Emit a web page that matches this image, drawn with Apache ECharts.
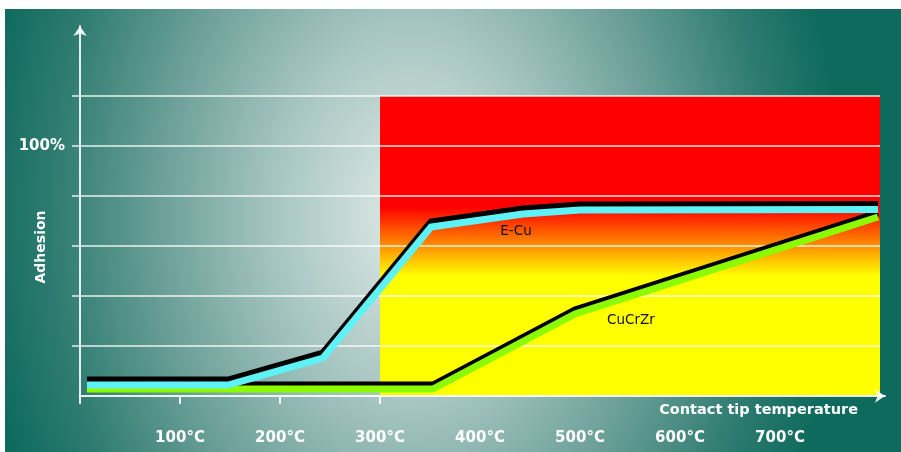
<!DOCTYPE html>
<html>
<head>
<meta charset="utf-8">
<script src="https://cdn.jsdelivr.net/npm/echarts@6/dist/echarts.min.js"></script>
<style>
  html, body { margin: 0; padding: 0; background: #ffffff; }
  #wrap { position: relative; width: 901px; height: 452px; overflow: hidden; }
  #bg { position: absolute; left: 5px; top: 9px; width: 896px; height: 443px;
        background: radial-gradient(ellipse 470px 650px at 405px 205px, #e0eae8 0%, #a9c7c2 28%, #6fa29b 52%, #2f7c71 76%, #0e6a5d 92%); }
  #chart { position: absolute; left: 0; top: 0; width: 901px; height: 452px; }
</style>
</head>
<body>
<div id="wrap"><div id="bg"></div><div id="chart"></div></div>
<script>
// ---- data ----
const eCuTemp = [7, 148, 243, 351, 443, 500, 798];
const eCuAdh  = [4.4, 4.4, 15.2, 67.6, 72.8, 74.4, 74.6];
const cuTemp  = [7, 353, 495, 798];
const cuAdh   = [2.8, 2.8, 32.8, 71.6];
const zoneTemp = [300, 800];
const zoneAdh  = [0, 120];
const gridValues = [20, 40, 60, 80, 100, 120];
const xTickValues = [0, 100, 200, 300];
const xLabelValues = [100, 200, 300, 400, 500, 600, 700];
const yLabelValues = [100];

const eCuData = eCuTemp.map((t, i) => [t, eCuAdh[i]]);
const cuData = cuTemp.map((t, i) => [t, cuAdh[i]]);

const white = 'rgba(255,255,255,0.88)';
const FONT = 'DejaVu Sans';

const chart = echarts.init(document.getElementById('chart'), null, { renderer: 'canvas' });
chart.setOption({
  animation: false,
  backgroundColor: 'transparent',
  grid: { left: 80, right: 16, top: 26, bottom: 56, containLabel: false, outerBoundsMode: 'none' },
  xAxis: {
    type: 'value', min: 0, max: 805, z: 4,
    name: 'Contact tip temperature', nameLocation: 'end', nameGap: -27, nameMoveOverlap: false,
    nameTextStyle: { color: '#ffffff', fontFamily: FONT, fontWeight: 'bold', fontSize: 14.5,
                     align: 'right', verticalAlign: 'top', padding: [7, 0, 0, 0] },
    axisLine: { show: true, symbol: ['none', 'arrow'], symbolSize: [10, 10],
                lineStyle: { color: white, width: 2 } },
    axisTick: { show: true, customValues: xTickValues, length: 8, lineStyle: { color: white, width: 2 } },
    axisLabel: { customValues: xLabelValues, formatter: '{value}°C', color: '#ffffff',
                 fontFamily: FONT, fontWeight: 'bold', fontSize: 15, margin: 35 },
    splitLine: { show: false }
  },
  yAxis: {
    type: 'value', min: 0, max: 148, z: 4,
    name: 'Adhesion', nameLocation: 'middle', nameRotate: 90, nameGap: 32, nameMoveOverlap: false,
    nameTextStyle: { color: '#ffffff', fontFamily: FONT, fontWeight: 'bold', fontSize: 14,
                     padding: [0, 72, 0, 0] },
    axisLine: { show: true, symbol: ['none', 'arrow'], symbolSize: [10, 10],
                lineStyle: { color: white, width: 2 } },
    axisTick: { show: true, customValues: gridValues, length: 8, lineStyle: { color: white, width: 1.5 } },
    axisLabel: { customValues: yLabelValues, formatter: '{value}%', color: '#ffffff',
                 fontFamily: FONT, fontWeight: 'bold', fontSize: 15, margin: 15 },
    splitLine: { show: false }
  },
  series: [
    {
      name: 'zone', type: 'line', data: [], z: 1, silent: true,
      markArea: {
        silent: true, z: 1,
        itemStyle: {
          opacity: 1,
          color: new echarts.graphic.LinearGradient(0, 0, 0, 1, [
            { offset: 0, color: '#ff0000' },
            { offset: 0.37, color: '#ff0000' },
            { offset: 0.6, color: '#ffff00' },
            { offset: 1, color: '#ffff00' }
          ])
        },
        data: [[{ xAxis: zoneTemp[0], yAxis: zoneAdh[0] }, { xAxis: zoneTemp[1], yAxis: zoneAdh[1] }]]
      },
      markLine: {
        silent: true, z: 2, symbol: ['none', 'none'], label: { show: false },
        lineStyle: { color: white, width: 1.5, type: 'solid' },
        emphasis: { disabled: true },
        data: gridValues.map(v => [{ coord: [0, v] }, { coord: [zoneTemp[1], v] }])
      }
    },
    {
      name: 'CuCrZr', type: 'line', data: cuData, z: 3, silent: true,
      symbol: 'none', showSymbol: false,
      lineStyle: { color: '#8cfb00', width: 7, join: 'miter', cap: 'butt',
                   shadowColor: '#000000', shadowBlur: 0, shadowOffsetX: 0, shadowOffsetY: -4 },
      markPoint: {
        silent: true, symbol: 'circle', symbolSize: 0,
        label: { show: true, formatter: 'CuCrZr', color: '#111111', fontFamily: FONT, fontSize: 13.5,
                 position: 'inside', offset: [56, 6] },
        data: [{ coord: cuData[2] }]
      }
    },
    {
      name: 'E-Cu', type: 'line', data: eCuData, z: 3, silent: true,
      symbol: 'none', showSymbol: false,
      lineStyle: { color: '#5ef2f7', width: 7, join: 'miter', cap: 'butt',
                   shadowColor: '#000000', shadowBlur: 0, shadowOffsetX: 0, shadowOffsetY: -5 },
      markPoint: {
        silent: true, symbol: 'circle', symbolSize: 0,
        label: { show: true, formatter: 'E-Cu', color: '#111111', fontFamily: FONT, fontSize: 13.5,
                 position: 'inside', offset: [-7, 17] },
        data: [{ coord: eCuData[4] }]
      }
    }
  ]
});
</script>
</body>
</html>
